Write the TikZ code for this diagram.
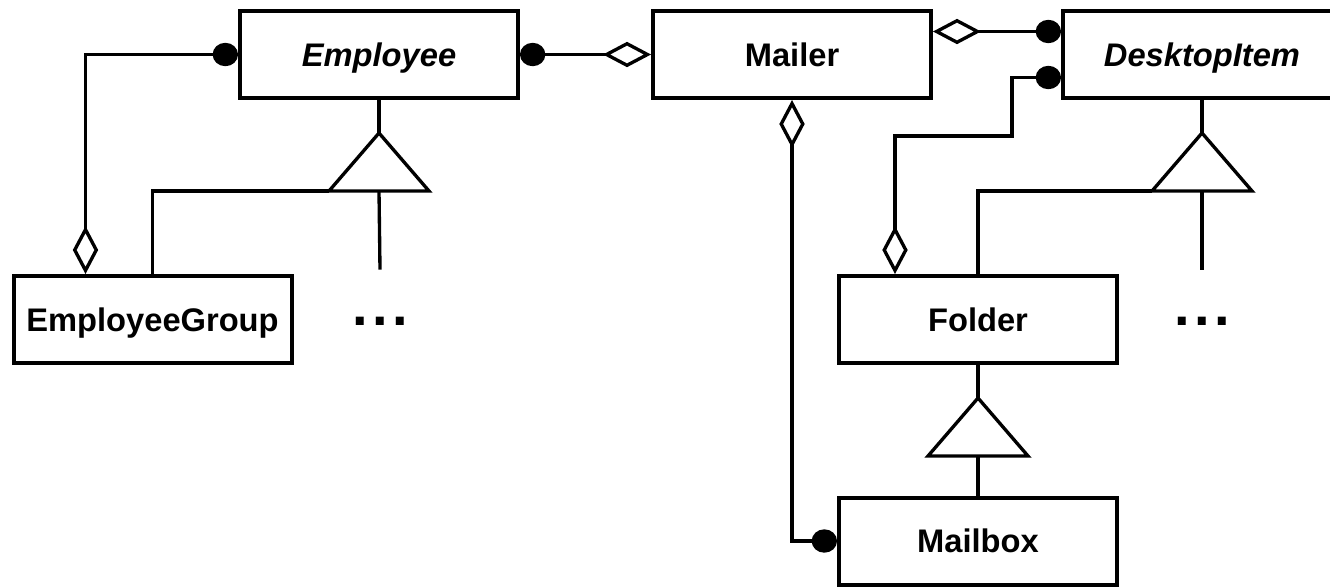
\documentclass[tikz,border=0pt]{standalone}
\usepackage{fontspec}
\setmainfont{Liberation Sans}
\usetikzlibrary{arrows.meta,calc}
\begin{document}
\begin{tikzpicture}[x=0.75pt,y=-0.75pt,
  cls/.style={draw,line width=3pt,minimum width=208.5pt,minimum height=65.25pt,
    inner sep=0pt,text height=18.5pt,text depth=1.25pt,
    font=\fontsize{24.5}{28}\selectfont\bfseries},
  abstractcls/.style={cls,font=\fontsize{24.5}{28}\selectfont\bfseries\itshape},
  link/.style={line width=2.5pt},
  memberdot/.tip={Circle[length=19pt,width=17.5pt]},
  wholediamond/.tip={Diamond[open,length=36pt,width=19pt]},
  more/.style={inner sep=0pt,font=\fontsize{42}{42}\selectfont\bfseries}]
\useasboundingbox (0,0) rectangle (1330,586);

% classes
\node[abstractcls] (emp) at (379,54.5) {Employee};
\node[cls] (mailer) at (792,54.5) {Mailer};
\node[abstractcls] (desk) at (1202,54.5) {DesktopItem};
\node[cls] (egrp) at (152.5,319.5) {EmployeeGroup};
\node[cls] (folder) at (978,319.5) {Folder};
\node[cls] (mbox) at (978,541) {Mailbox};
\node[more] (moreE) at (380,321) {.\kern3.5pt.\kern3.5pt.};
\node[more] (moreD) at (1202,321) {.\kern3.5pt.\kern3.5pt.};

% inheritance: Employee
\coordinate (tE) at ($(emp.south)+(0,33)$);
\coordinate (tEb) at ($(tE)+(0,58)$);
\draw[link] (emp.south) -- (tE);
\draw[link] (tE) -- ($(tE)+(-50,58)$) -- ($(tE)+(50,58)$) -- cycle;
\draw[link] ($(tE)+(-50,58)$) -| (egrp.north);
\draw[link] (tEb) -- ($(moreE.north)+(0,-47)$);

% inheritance: DesktopItem
\coordinate (tD) at ($(desk.south)+(0,33)$);
\coordinate (tDb) at ($(tD)+(0,58)$);
\draw[link] (desk.south) -- (tD);
\draw[link] (tD) -- ($(tD)+(-50,58)$) -- ($(tD)+(50,58)$) -- cycle;
\draw[link] ($(tD)+(-50,58)$) -| (folder.north);
\draw[link] (tDb) -- ($(moreD.north)+(0,-47)$);

% inheritance: Folder
\coordinate (tF) at ($(folder.south)+(0,33)$);
\coordinate (tFb) at ($(tF)+(0,58)$);
\draw[link] (folder.south) -- (tF);
\draw[link] (tF) -- ($(tF)+(-50,58)$) -- ($(tF)+(50,58)$) -- cycle;
\draw[link] (tFb) -- (mbox.north);

% aggregations
\coordinate (eg) at ($(egrp.north west)+(74,0)$);
\draw[link,{memberdot}-{wholediamond}] (emp.west) -| (eg);
\draw[link,{memberdot}-{wholediamond}] (emp.east) -- (mailer.west);
\draw[link,{wholediamond}-{memberdot}] (mailer.south) |- (mbox.west);
\coordinate (dA) at ($(desk.west)+(0,-23)$);
\draw[link,{wholediamond}-{memberdot}] (mailer.east |- dA) -- (dA);
\coordinate (dB) at ($(desk.west)+(0,23)$);
\coordinate (fA) at ($(folder.north west)+(58,0)$);
\draw[link,{memberdot}-{wholediamond}] (dB) -- ++(-49,0) |- ($(fA)+(0,-138)$) -- (fA);
\end{tikzpicture}
\end{document}
